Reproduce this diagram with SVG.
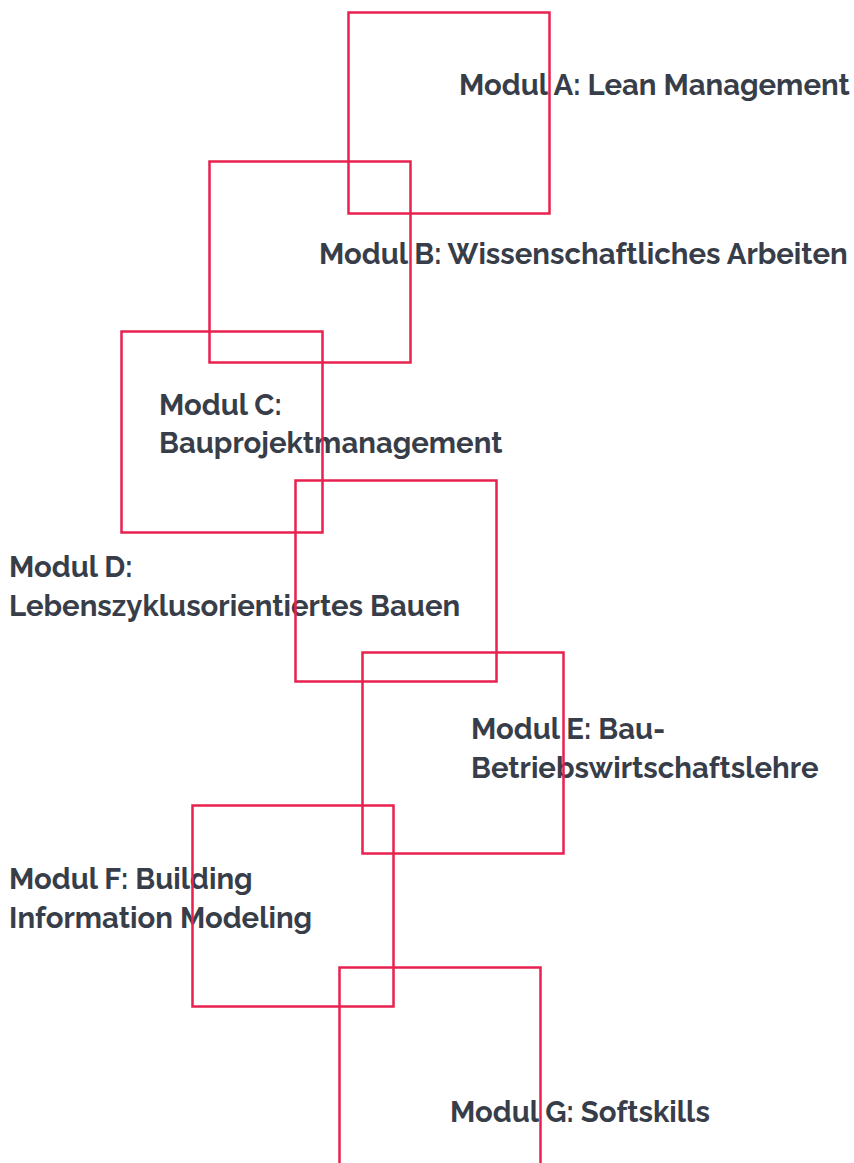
<svg xmlns="http://www.w3.org/2000/svg" width="854" height="1163" viewBox="0 0 854 1163">
<style>
.t{font-family:"Raleway","Lato","Open Sans",sans-serif;font-weight:700;font-size:29.3px;fill:#383e49}
.b{fill:none;stroke:#e8214f;stroke-width:2.5}
</style>
<rect width="854" height="1163" fill="#ffffff"/>
<g id="nodeA"><text class="t" x="459" y="95">Modul A: Lean Management</text><rect class="b" x="348.5" y="12.5" width="201" height="201"/></g>
<g id="nodeB"><text class="t" x="319" y="264">Modul B: Wissenschaftliches Arbeiten</text><rect class="b" x="209.5" y="161.5" width="201" height="201"/></g>
<g id="nodeC"><text class="t" x="159" y="415">Modul C:</text><text class="t" x="159" y="453">Bauprojektmanagement</text><rect class="b" x="121.5" y="331.5" width="201" height="201"/></g>
<g id="nodeD"><text class="t" x="9" y="577">Modul D:</text><text class="t" x="9" y="616">Lebenszyklusorientiertes Bauen</text><rect class="b" x="295.5" y="480.5" width="201" height="201"/></g>
<g id="nodeE"><text class="t" x="471" y="739">Modul E: Bau-</text><text class="t" x="471" y="778">Betriebswirtschaftslehre</text><rect class="b" x="362.5" y="652.5" width="201" height="201"/></g>
<g id="nodeF"><text class="t" x="9" y="889">Modul F: Building</text><text class="t" x="9" y="928">Information Modeling</text><rect class="b" x="192.5" y="805.5" width="201" height="201"/></g>
<g id="nodeG"><text class="t" x="450" y="1122">Modul G: Softskills</text><rect class="b" x="339.5" y="967.5" width="201" height="220"/></g>
<g id="connectors"></g>
</svg>
